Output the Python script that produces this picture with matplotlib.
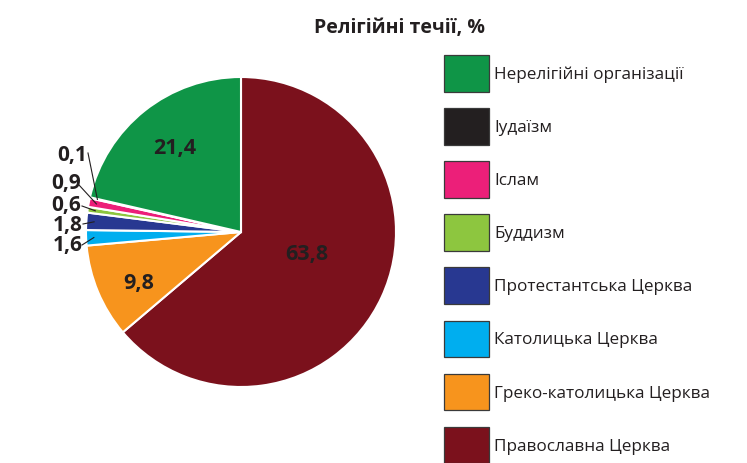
import numpy as np
import matplotlib
matplotlib.use("Agg")
import matplotlib.pyplot as plt
from matplotlib.patches import Rectangle

plt.rcParams['font.family'] = ['Open Sans', 'DejaVu Sans']

# Data (clockwise from top)
categories = ["Православна Церква", "Греко-католицька Церква", "Католицька Церква",
              "Протестантська Церква", "Буддизм", "Іслам", "Іудаїзм",
              "Нерелігійні організації"]
values = [63.8, 9.8, 1.6, 1.8, 0.6, 0.9, 0.1, 21.4]
value_labels = ["63,8", "9,8", "1,6", "1,8", "0,6", "0,9", "0,1", "21,4"]
colors = ["#7b111c", "#f7941d", "#00aeef", "#283891", "#8dc63f", "#ec1f79",
          "#231f20", "#0f9547"]
title = "Релігійні течії, %"

W, H = 747, 463
fig = plt.figure(figsize=(W / 100, H / 100), dpi=100)
ax = fig.add_axes([0, 0, 1, 1])

cx, cy, R = 241, H - 232, 155
wedges, _ = ax.pie(values, colors=colors, startangle=90, counterclock=False,
                   center=(cx, cy), radius=R,
                   wedgeprops=dict(edgecolor="white", linewidth=1.5))
ax.set_xlim(0, W)
ax.set_ylim(0, H)
ax.set_aspect("equal")
ax.axis("off")

dark = "#231f20"
# inside labels: index -> (radial fraction, angle offset deg)
inside = {0: (0.45, 6), 1: (0.74, 4), 7: (0.69, 0)}
for i, w in enumerate(wedges):
    if i in inside:
        f, off = inside[i]
        mid = np.deg2rad((w.theta1 + w.theta2) / 2 + off)
        ax.text(cx + f * R * np.cos(mid), cy + f * R * np.sin(mid), value_labels[i],
                ha="center", va="center", fontsize=15.5, fontweight="bold", color=dark)

# outside labels with leader lines (label anchor in pixels from top)
outside = {6: (87, 155), 5: (81, 183), 4: (81, 205), 3: (83, 226), 2: (83, 246)}
line_start = {6: (88, 153), 5: (79, 185), 4: (82, 206), 3: (83, 224), 2: (82, 245)}
for i, (lx, ly) in outside.items():
    w = wedges[i]
    mid = np.deg2rad((w.theta1 + w.theta2) / 2)
    px, py = cx + 0.95 * R * np.cos(mid), cy + 0.95 * R * np.sin(mid)
    sx, sy = line_start[i]
    ax.plot([sx, px], [H - sy, py], color=dark, lw=0.8)
    ax.text(lx, H - ly, value_labels[i], ha="right", va="center", fontsize=15,
            fontweight="bold", color=dark)

ax.text(399, H - 28, title, ha="center", va="center", fontsize=14,
        fontweight="bold", color=dark)

# legend (top to bottom = reverse order)
for k, i in enumerate(reversed(range(len(categories)))):
    yc = 73.5 + 53.1 * k
    ax.add_patch(Rectangle((443.5, H - yc - 18), 45.5, 36.5, facecolor=colors[i],
                           edgecolor="#3a3a3a", linewidth=0.9))
    ax.text(494, H - yc - 1.5, categories[i], ha="left", va="center", fontsize=12.3,
            color=dark)

fig.savefig("out.png", dpi=100)
